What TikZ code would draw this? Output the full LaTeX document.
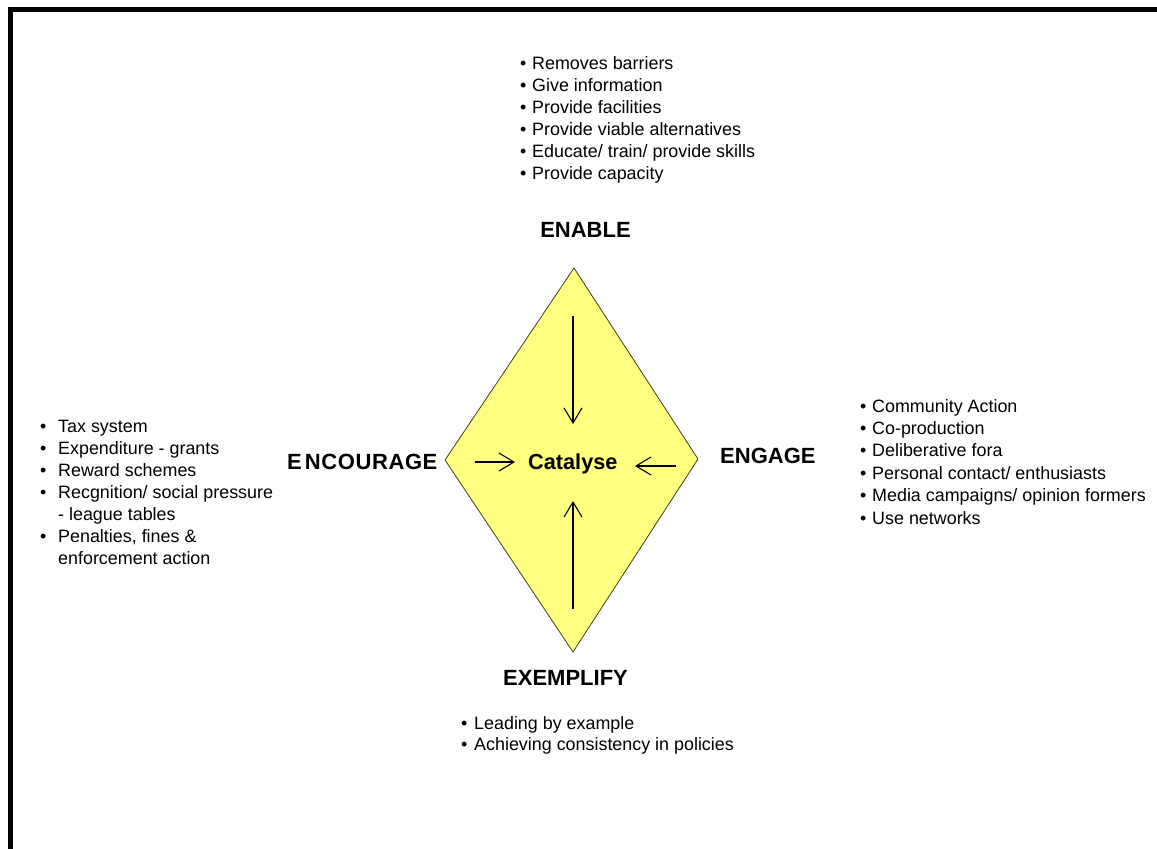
\documentclass[tikz,border=0pt]{standalone}
\usepackage{fontspec}
\setmainfont{Liberation Sans}
\usetikzlibrary{arrows.meta}
\definecolor{diafill}{RGB}{255,255,128}
\definecolor{diaedge}{RGB}{60,60,40}
\tikzset{
 item/.style={anchor=base west, inner sep=0pt, font=\fontsize{17.9}{22}\selectfont},
 head/.style={inner sep=0pt, font=\fontsize{22}{26}\selectfont\bfseries},
 arr/.style={line width=1.1pt, -{Straight Barb[length=15pt,width=18pt,line width=1.1pt]}},
 frame/.style={line width=5pt, line join=miter},
}
\newcommand\bul[1]{\makebox[#1][l]{\textbullet}}
\begin{document}
\begin{tikzpicture}[x=1pt,y=-1pt]
\useasboundingbox (0,0) rectangle (1157,849);
\draw[frame] (10.5,849) -- (10.5,9.5) -- (1157,9.5);

% diamond
\coordinate (dt) at (574,268);
\coordinate (dr) at (698,459);
\coordinate (db) at (573,652);
\coordinate (dl) at (445,460);
\draw[diaedge, fill=diafill, line width=0.8pt] (dt) -- (dr) -- (db) -- (dl) -- cycle;

\node[head, anchor=base west, font=\fontsize{21.7}{26}\selectfont\bfseries] (cat) at (528,469) {Catalyse};

% arrows
\coordinate (a1s) at (573,316); \coordinate (a1e) at (573,424);
\coordinate (a2s) at (573,609); \coordinate (a2e) at (573,501);
\coordinate (a3s) at (475,462); \coordinate (a3e) at (515,462);
\coordinate (a4s) at (676,466); \coordinate (a4e) at (635,466);
\draw[arr] (a1s) -- (a1e);
\draw[arr] (a2s) -- (a2e);
\draw[arr] (a3s) -- (a3e);
\draw[arr] (a4s) -- (a4e);

% headings
\node[head, anchor=base] (enable) at (585.5,237.5) {ENABLE};
\node[head, anchor=base west] (encourage) at (287,469.5) {E\kern3pt N\kern0.6pt C\kern0.6pt O\kern0.6pt U\kern0.6pt R\kern0.6pt A\kern0.6pt G\kern0.6pt E};
\node[head, anchor=base west] (engage) at (720,463.5) {ENGAGE};
\node[head, anchor=base west] (exemplify) at (503,685) {EXEMPLIFY};

% top list
\node[item] (t1) at (520,69) {\bul{12pt}Removes barriers};
\node[item] (t2) at (520,91) {\bul{12pt}Give information};
\node[item] (t3) at (520,113) {\bul{12pt}Provide facilities};
\node[item] (t4) at (520,135) {\bul{12pt}Provide viable alternatives};
\node[item] (t5) at (520,157) {\bul{12pt}Educate/ train/ provide skills};
\node[item] (t6) at (520,179) {\bul{12pt}Provide capacity};

% left list
\node[item] (l1) at (40,432) {\bul{18pt}Tax system};
\node[item] (l2) at (40,454) {\bul{18pt}Expenditure - grants};
\node[item] (l3) at (40,476) {\bul{18pt}Reward schemes};
\node[item] (l4) at (40,498) {\bul{18pt}Recgnition/ social pressure};
\node[item] (l5) at (58,520) {- league tables};
\node[item] (l6) at (40,542) {\bul{18pt}Penalties, fines \&};
\node[item] (l7) at (58,564) {enforcement action};

% right list
\node[item] (r1) at (860,412) {\bul{12pt}Community Action};
\node[item] (r2) at (860,434.4) {\bul{12pt}Co-production};
\node[item] (r3) at (860,456.8) {\bul{12pt}Deliberative fora};
\node[item] (r4) at (860,479.2) {\bul{12pt}Personal contact/ enthusiasts};
\node[item] (r5) at (860,501.6) {\bul{12pt}Media campaigns/ opinion formers};
\node[item] (r6) at (860,524) {\bul{12pt}Use networks};

% bottom list
\node[item] (b1) at (461,729) {\bul{13pt}Leading by example};
\node[item] (b2) at (461,750) {\bul{13pt}Achieving consistency in policies};
\end{tikzpicture}
\end{document}
